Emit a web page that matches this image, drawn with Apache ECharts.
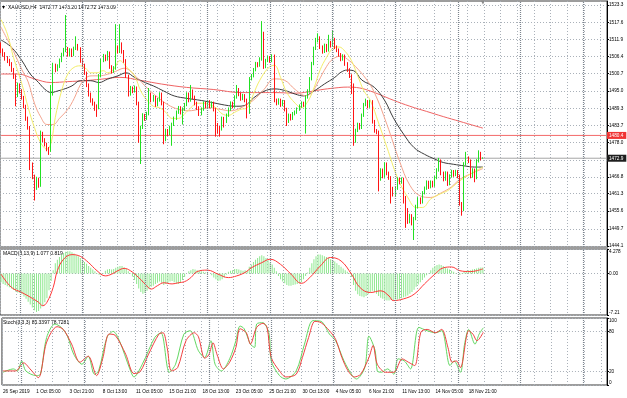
<!DOCTYPE html>
<html>
<head>
<meta charset="utf-8">
<script src="https://cdn.jsdelivr.net/npm/echarts@6.0.0/dist/echarts.min.js"></script>
<style>
  html, body { margin: 0; padding: 0; background: #fff; }
  #chart { width: 627px; height: 398px; }
</style>
</head>
<body>
<div id="chart"></div>
<script>
// XAUUSD H4
const timeLabels = ["26 Sep 2019", "1 Oct 05:00", "3 Oct 21:00", "8 Oct 13:00", "11 Oct 05:00",
  "15 Oct 21:00", "18 Oct 13:00", "23 Oct 05:00", "25 Oct 21:00", "30 Oct 13:00",
  "4 Nov 05:00", "6 Nov 21:00", "11 Nov 13:00", "14 Nov 05:00", "18 Nov 21:00"];

// [open, close, low, high]
const candles = [
  [1510,1508,1507.5,1511],[1508,1507,1506.3,1509],[1507,1505.5,1505,1507.8],[1505.5,1505,1504.2,1506.5],
  [1505,1504,1503.2,1505.6],[1504,1502,1501.3,1504.5],[1502,1500,1499,1502.6],[1500,1493.5,1490,1500.5],
  [1493.5,1497,1493,1497.8],[1497,1495,1494.2,1497.5],[1495,1493,1492.2,1495.6],[1493,1490,1489.3,1493.4],
  [1490,1486,1485.2,1490.5],[1486,1483,1482.3,1486.6],[1483,1470,1469,1483.5],[1470,1467,1466,1471.5],
  [1467,1463,1459,1467.5],[1463,1466,1462.5,1466.8],[1466,1464,1463.2,1466.5],[1464,1481,1463.5,1482],
  [1481,1479,1478.2,1481.6],[1479,1477.5,1476.8,1479.5],[1477.5,1476,1475.2,1478],[1476,1475.5,1474,1476.6],
  [1475.5,1494,1475,1497],[1494,1503.5,1493.5,1504.3],[1503.5,1502,1501.2,1504],[1502,1503,1501.5,1503.8],
  [1503,1505,1502.6,1505.7],[1505,1507,1504.5,1507.6],[1507,1508.5,1506.5,1509.2],[1508.5,1509,1507.8,1520],
  [1509,1507,1506.3,1509.5],[1507,1508.5,1506.5,1509.1],[1508.5,1507,1506.2,1509],[1507,1509,1506.5,1509.6],
  [1509,1510,1508.5,1513],[1510,1509,1508.3,1510.5],[1509,1505,1504.3,1509.4],[1505,1503.5,1502.8,1505.5],
  [1503.5,1501,1500.3,1504],[1501,1497,1496.3,1501.4],[1497,1494,1493.2,1497.5],[1494,1492,1491.2,1494.5],
  [1492,1491,1490.2,1492.6],[1491,1490,1488.5,1491.5],[1490,1489.5,1486.5,1490.6],[1489.5,1500,1489,1500.6],
  [1500,1505,1499.5,1505.6],[1505,1506.5,1504.5,1507.2],[1506.5,1505.5,1504.8,1507],[1505.5,1507.5,1505,1508.2],
  [1507.5,1503,1502.3,1508],[1503,1501.5,1500.8,1503.5],[1501.5,1502.5,1501,1503.2],[1502.5,1509.5,1502,1517],
  [1509.5,1508,1507.3,1510],[1508,1510.5,1507.5,1517],[1510.5,1508,1507.3,1511],[1508,1505,1504.3,1508.5],
  [1505,1500,1499.3,1505.5],[1500,1494,1493.2,1500.4],[1494,1496,1493.5,1496.7],[1496,1495,1494.3,1496.5],
  [1495,1496,1494.5,1496.8],[1496,1491,1490.3,1496.5],[1491,1481,1478,1491.5],[1481,1483,1471,1483.6],
  [1483,1487,1482.5,1487.7],[1487,1486,1485.2,1487.5],[1486,1487.5,1485.5,1488.2],[1487.5,1494,1487,1496],
  [1494,1492,1491.3,1494.5],[1492,1493,1491.5,1493.7],[1493,1490.5,1489.8,1493.4],[1490.5,1492,1490,1492.7],
  [1492,1494,1491.5,1494.6],[1494,1491,1490.3,1494.5],[1491,1479,1477.5,1491.5],[1479,1482,1478.5,1482.6],
  [1482,1481,1480.2,1482.5],[1481,1483,1480.5,1483.6],[1483,1484,1477,1484.6],[1484,1486,1483.5,1486.6],
  [1486,1488,1485.5,1488.6],[1488,1489.5,1487.5,1490.1],[1489.5,1488,1487.3,1490],[1488,1489,1484,1489.6],
  [1489,1490.5,1488.5,1491.1],[1490.5,1494,1490,1494.6],[1494,1492,1491.3,1494.5],[1492,1495,1491.5,1497],
  [1495,1493,1492.3,1495.5],[1493,1491,1490.3,1493.5],[1491,1489.5,1488.8,1491.5],[1489.5,1487.5,1486.8,1490],
  [1487.5,1489,1487,1489.6],[1489,1491,1488.5,1491.6],[1491,1490,1489.3,1491.5],[1490,1491.5,1489.5,1492.1],
  [1491.5,1490,1489.3,1492],[1490,1491,1489.5,1491.6],[1491,1489,1488.3,1491.5],[1489,1484,1480,1489.5],
  [1484,1483,1481,1484.5],[1483,1482.5,1480,1483.5],[1482.5,1486,1482,1486.6],[1486,1485,1483,1486.5],
  [1485,1487,1484.5,1487.6],[1487,1489,1486.5,1489.6],[1489,1491,1488.5,1491.6],[1491,1490,1489.3,1491.5],
  [1490,1493,1489.5,1493.6],[1493,1495.5,1492.5,1497],[1495.5,1494,1493.3,1496],[1494,1492.5,1491.8,1494.5],
  [1492.5,1493.5,1492,1494.1],[1493.5,1492,1491.3,1494],[1492,1488,1486,1492.5],[1488,1499,1487.5,1499.6],
  [1499,1500,1498.5,1500.6],[1500,1502,1499.5,1502.6],[1502,1504,1501.5,1504.6],[1504,1503.5,1502.8,1504.5],
  [1503.5,1505.5,1503,1506.1],[1505.5,1514,1505,1518],[1514,1503,1502.3,1514.5],[1503,1505,1502.5,1505.6],
  [1505,1506,1504.5,1506.6],[1506,1505,1504.3,1506.5],[1505,1506.5,1504.5,1507.1],[1506.5,1492,1491.3,1507],
  [1492,1491,1490.3,1492.5],[1491,1492,1490.5,1492.6],[1492,1490.5,1489.8,1492.5],[1490.5,1491.5,1490,1492.1],
  [1491.5,1489,1488.3,1492],[1489,1485,1483.5,1489.5],[1485,1487,1484.5,1487.6],[1487,1486,1485.3,1487.5],
  [1486,1487.5,1485.5,1488.1],[1487.5,1488,1487,1488.6],[1488,1489,1487.5,1489.6],[1489,1490,1488.5,1490.6],
  [1490,1491,1489.5,1491.6],[1491,1490.5,1489.8,1491.5],[1490.5,1493,1481,1493.6],[1493,1495,1492.5,1495.6],
  [1495,1499,1494.5,1499.6],[1499,1504,1498.5,1504.6],[1504,1509,1503.5,1509.6],[1509,1511.5,1508.5,1512.5],
  [1511.5,1512.5,1511,1514],[1512.5,1509.5,1508.8,1513],[1509.5,1508,1507.3,1510],[1508,1510,1507.5,1510.6],
  [1510,1508.5,1507.8,1510.5],[1508.5,1511,1508,1513.5],[1511,1510,1509.3,1511.5],[1510,1512,1509.5,1515],
  [1512,1509.5,1508.8,1512.5],[1509.5,1508.5,1507.8,1510],[1508.5,1507,1506.3,1509],[1507,1505.5,1504.8,1507.5],
  [1505.5,1506.5,1505,1507.1],[1506.5,1504,1503.3,1507],[1504,1502,1501.3,1504.5],[1502,1500,1499.3,1502.5],
  [1500,1497,1494,1500.5],[1497,1478.5,1477,1497.5],[1478.5,1482,1478,1482.6],[1482,1484,1481.5,1484.6],
  [1484,1483,1482.3,1484.5],[1483,1487,1482.5,1487.6],[1487,1490.5,1486.5,1491.1],[1490.5,1491.5,1490,1492.5],
  [1491.5,1490,1489.3,1492],[1490,1491.5,1489.5,1492.1],[1491.5,1485,1484.3,1492],[1485,1482,1481.3,1485.5],
  [1482,1481.5,1480.8,1482.5],[1481.5,1466,1462,1482],[1466,1469,1465.5,1469.6],[1469,1467,1466.3,1469.5],
  [1467,1471,1466.5,1471.6],[1471,1468,1467.3,1471.5],[1468,1466.5,1465.8,1468.5],[1466.5,1463,1458,1467],
  [1463,1461,1460.3,1463.5],[1461,1463,1460.5,1463.6],[1463,1466,1462.5,1466.6],[1466,1465,1464.3,1466.5],
  [1465,1466,1464.5,1466.6],[1466,1460,1458,1466.5],[1460,1456,1450,1460.5],[1456,1452,1451.3,1456.5],
  [1452,1454,1451.5,1454.6],[1454,1451.5,1450.8,1454.5],[1451.5,1453,1446,1453.6],[1453,1457,1452.5,1457.6],
  [1457,1459.5,1456.5,1460.1],[1459.5,1458.5,1457.8,1460],[1458.5,1461.5,1458,1462.1],[1461.5,1463,1461,1463.6],
  [1463,1465,1462.5,1465.6],[1465,1463.5,1462.8,1465.5],[1463.5,1465,1463,1465.6],[1465,1464,1463.3,1465.5],
  [1464,1466.5,1463.5,1467.1],[1466.5,1469,1466,1469.6],[1469,1472,1468.5,1473],[1472,1468,1467.3,1472.5],
  [1468,1466,1465.3,1468.5],[1466,1468,1465.5,1468.6],[1468,1464.5,1463.8,1468.5],[1464.5,1467,1464,1467.6],
  [1467,1468.5,1466.5,1469.1],[1468.5,1467.5,1466.8,1469],[1467.5,1468.5,1467,1469.1],[1468.5,1467,1466.3,1469],
  [1467,1458,1457.3,1467.5],[1458,1456,1454,1458.5],[1456,1471,1455.5,1471.6],[1471,1473,1470.5,1475],
  [1473,1472,1471.3,1473.5],[1472,1467,1466.3,1472.5],[1467,1469,1466.5,1469.6],[1469,1466.5,1465,1469.5],
  [1466.5,1472,1466,1472.6],[1472,1474.5,1471.5,1475.5],[1474.5,1472.77,1472.2,1475],[1472.77,1473.09,1472.72,1473.2]
];

// moving averages, [bar, price]
const maYellow = [[0,1518.5],[3,1513.8],[6,1506],[10,1497.3],[13,1489.6],[16,1483],[19,1478],[22,1475.9],[24,1478],
  [26,1486.3],[29,1495],[32,1500.6],[35,1502.8],[38,1503.3],[41,1502.2],[43,1501],[46,1501],[49,1501.7],[51,1501],
  [54,1502.2],[57,1505],[60,1503],[64,1500],[67,1495],[70,1492],[73,1490],[76,1489.5],[79,1488],[82,1486],[85,1486],
  [88,1487.5],[91,1489.5],[94,1491],[97,1491],[100,1490.5],[103,1489.5],[106,1487.5],[109,1487],[112,1488],[115,1489],
  [118,1489.5],[121,1494],[124,1498.5],[128,1502.5],[131,1503.5],[134,1499.5],[137,1494.5],[141,1491],[144,1489.5],
  [147,1491.5],[150,1496],[153,1502],[156,1506],[159,1509],[162,1509.5],[165,1508],[168,1505],[171,1500],[174,1495],
  [177,1492],[181,1484.5],[185,1476.5],[190,1466.6],[195,1460],[199,1456.7],[202,1456.7],[206,1459.5],[210,1461],
  [214,1462.2],[217,1463.8],[220,1465.5],[225,1467.7],[231,1470]];
const maSalmon = [[0,1516],[3,1512],[6,1508],[10,1502],[13,1498],[16,1491],[19,1486.5],[22,1484],[25,1484],[28,1486],
  [32,1489],[35,1492.5],[38,1497],[41,1499.5],[44,1500],[47,1500],[51,1500.5],[55,1501.5],[59,1502.5],[65,1499.5],
  [70,1496],[75,1493],[80,1490.5],[85,1489],[90,1488.5],[95,1489],[100,1489.5],[105,1489],[110,1488.5],[115,1489.5],
  [121,1492],[126,1495.5],[131,1499],[136,1498.5],[141,1495.5],[146,1493.5],[149,1494.5],[152,1498],[156,1503],
  [159,1505.5],[163,1506.5],[166,1505.5],[170,1503],[175,1499],[179,1494.5],[185,1484],[191,1472],[196,1464],
  [201,1460.5],[206,1460],[211,1461.5],[216,1463.5],[220,1466],[226,1468],[231,1469.5]];
const maGray = [[0,1511.8],[5,1509.4],[10,1505],[14,1500.6],[18,1497.8],[21,1495.6],[24,1494.5],[27,1495],[30,1495.6],
  [34,1496.7],[38,1498.4],[43,1498.4],[47,1497.8],[51,1498.9],[56,1500],[60,1501],[64,1499.5],[69,1497.8],[73,1496.7],
  [78,1495],[83,1493.4],[89,1492.6],[96,1491.9],[102,1491.1],[109,1490.2],[113,1490],[117,1490.3],[121,1492.7],
  [126,1494.9],[131,1495.7],[136,1495.2],[141,1494],[145,1493.4],[150,1495],[155,1497.3],[160,1499.5],[163,1501.2],
  [166,1501.9],[169,1501.7],[173,1498.6],[179,1496.2],[184,1491.8],[188,1486.3],[193,1480.8],[198,1476.4],
  [203,1474.2],[208,1472.6],[212,1471.5],[217,1470.9],[222,1470.4],[227,1470],[231,1470]];
const maRed = [[0,1500.6],[8,1500.6],[16,1499],[24,1497.8],[32,1498.1],[40,1498.4],[48,1498.9],[57,1499.5],[67,1498.5],
  [77,1497.3],[89,1496.2],[102,1495.5],[115,1494.5],[131,1494.5],[141,1494.3],[147,1494.7],[153,1495.4],[160,1496],
  [166,1496.3],[172,1496],[177,1495],[182,1493.7],[188,1492],[196,1490],[204,1488.3],[212,1486.6],[220,1485],[231,1482.8]];

// MACD histogram per bar and signal line
const macdHist = [
  -1.5,-1.8,-2.0,-2.2,-2.4, -2.6,-2.8,-3.1,-3.3,-3.4, -3.6,-4.0,-4.4,-4.9,-5.4, -5.9,-6.4,-6.7,-6.5,-6.1,
  -5.6,-5.0,-4.3,-2.9,-1.3, 0.6,1.8,2.4,2.9,3.3, 3.6,3.8,3.9,3.9,3.7, 3.5,3.2,3.0,2.7,2.4,
  2.0,1.7,1.3,1.0,0.7, 0.4,0.1,-0.2,-0.3,0.1, 0.5,0.7,0.8,0.7,0.8, 1.0,1.2,1.3,1.3,1.1,
  0.8,0.4,0.1,-0.5,-1.1, -1.8,-2.6,-3.2,-3.5,-3.4, -3.0,-2.6,-2.3,-2.1,-1.8, -1.6,-1.4,-1.6,-2.0,-1.8,
  -1.6,-1.4,-1.3,-1.5,-1.7, -1.8,-1.5,-1.1,-0.6,0.0, 0.4,0.6,0.8,0.7,0.6, 0.5,0.4,0.3,0.2,0.1,
  0.0,-0.3,-0.7,-1.0,-1.3, -1.2,-1.0,-0.7,-0.2,0.3, 0.5,0.6,0.8,0.8,0.7, 0.6,0.5,0.6,0.5,1.2,
  1.6,2.0,2.4,2.7,3.0, 3.2,3.0,2.7,2.3,1.9, 1.6,1.0,0.4,-0.4,-1.0, -1.4,-1.7,-2.0,-2.1,-2.1,
  -2.0,-1.9,-1.8,-1.7,-1.5, -1.0,-0.4,0.2,1.0,1.8, 2.5,3.0,3.3,3.3,3.2, 3.0,2.9,2.7,2.5,2.3,
  2.1,1.8,1.5,1.2,0.9, 0.6,0.3,0.1,-0.6,-2.0, -3.0,-3.6,-3.9,-4.0,-4.1, -3.9,-3.6,-3.2,-3.0,-3.2,
  -3.5,-3.9,-4.2,-4.4,-4.6, -4.7,-4.7,-4.6,-4.6,-4.5, -4.5,-4.4,-4.3,-4.1,-4.0, -3.8,-3.5,-3.2,-2.8,-2.3,
  -1.9,-1.5,-1.1,-0.7,-0.3, 0.1,0.6,1.0,1.3,1.5, 1.6,1.5,1.3,1.1,0.9, 0.7,0.5,0.3,0.1,0.0,
  -0.2,0.1,0.3,0.5,0.6, 0.6,0.7,0.8,0.9,1.0, 1.05,1.077];
const macdSignal = [[0,-0.1],[5,-2.4],[10,-3.3],[14,-4.1],[18,-5],[20,-5.6],[22,-5],[25,-2.4],[27,0.5],[30,2.5],
  [34,3.3],[38,3.0],[42,1.9],[46,0.5],[50,-0.4],[53,-0.1],[56,0.5],[59,0.9],[62,0.5],[66,-0.7],[69,-1.8],[72,-2.7],
  [75,-2.1],[78,-1.6],[82,-1.8],[85,-1.6],[88,-1.4],[91,-0.7],[94,0.35],[99,0.6],[104,-0.1],[109,-0.7],[113,-0.4],
  [117,0.2],[120,1.0],[125,1.9],[129,2.5],[134,1.6],[139,-0.1],[144,-1.7],[148,-0.7],[153,1.3],[158,2.8],[163,2.2],
  [168,-0.1],[172,-2.4],[177,-3.3],[182,-3.0],[186,-3.9],[188,-4.7],[193,-4.4],[198,-3.6],[203,-1.8],[208,-0.1],
  [212,1.0],[216,1.15],[220,0.5],[225,0.35],[228,0.5],[231,0.819]];

// Stochastic %K and %D, [bar, value]
const stochK = [[0,19],[5,24],[7,21],[9,36],[11,21],[16,14],[18,16],[21,71],[25,91],[28,86],[31,73],[34,46],[38,31],
  [41,43],[44,16],[46,21],[50,71],[53,80],[56,66],[61,24],[63,12],[67,31],[73,71],[76,78],[80,19],[83,31],[87,76],
  [90,81],[94,51],[97,41],[100,66],[102,31],[105,21],[109,39],[112,66],[114,88],[116,84],[119,61],[121,56],[122,91],
  [125,93],[128,76],[129,36],[133,14],[136,9],[141,21],[145,61],[149,96],[153,95],[157,76],[160,66],[164,36],[168,14],
  [170,9],[174,26],[176,73],[179,51],[180,21],[182,19],[185,24],[188,16],[190,39],[193,36],[196,24],[200,86],[204,81],
  [208,78],[211,81],[215,29],[217,36],[220,19],[222,61],[224,83],[227,61],[229,76],[231,85.3397]];
const stochD = [[0,21],[6,21],[10,33],[13,24],[17,11],[21,64],[26,87],[29,83],[33,61],[37,34],[41,43],[45,14],[48,40],
  [51,76],[54,74],[59,46],[63,17],[66,20],[70,46],[75,76],[77,78],[79,55],[81,21],[84,26],[88,66],[92,78],[94,72],
  [97,40],[99,45],[101,63],[103,45],[106,24],[109,34],[112,56],[114,84],[117,78],[119,61],[122,86],[125,92],[127,86],
  [129,41],[133,21],[136,12],[141,16],[144,41],[147,71],[150,95],[153,93],[157,81],[160,68],[163,41],[166,21],[169,12],
  [172,16],[176,41],[178,59],[180,31],[184,19],[188,19],[192,39],[195,34],[198,29],[201,79],[204,83],[208,78],
  [211,83],[214,56],[216,34],[218,36],[220,26],[224,81],[226,76],[228,66],[231,78.7281]];

const priceTicks = [1523.3, 1517.6, 1511.9, 1506.4, 1500.7, 1495.0, 1489.3, 1483.7, 1478.0, 1472.3, 1466.8, 1461.3, 1455.6, 1449.7, 1444.1];
const priceLabels = [1523.3, 1517.6, 1511.9, 1506.4, 1500.7, 1495.0, 1489.3, 1483.7, 1478.0, 1466.8, 1461.3, 1455.6, 1449.7, 1444.1];
const macdTicks = [4.278, 0, -7.21];
const stochTicks = [100, 80, 20, 0];
// MT4 pulls the end labels of the sub-windows slightly inside the window
const macdLabelAt = [[3.75, '4.278'], [0, '0.00'], [-6.85, '-7.21']];
const stochLabelAt = [[96, '100'], [80, '80'], [20, '20'], [3.5, '0']];
const weekStarts = [9, 39, 69, 99, 129, 159, 189, 219, 249, 279];
const hLine = 1480.4;
const bidPrice = 1472.9;
const totalBars = 291;

const cats = [];
for (let i = 0; i < totalBars; i++) cats.push(i);

const font = 'Liberation Sans';
const gridColor = '#aab1b9';
const fs = 4.7;

const weekMark = {
  silent: true, symbol: 'none', animation: false,
  lineStyle: { color: '#7d858e', type: [1, 1], width: 1.2 },
  label: { show: false },
  data: weekStarts.map(w => ({ xAxis: w }))
};

function xAx(idx, showLabels) {
  return {
    type: 'category', gridIndex: idx, data: cats, boundaryGap: true,
    axisLine: { show: false }, axisTick: { show: false },
    axisLabel: {
      show: showLabels, interval: 15, align: 'left', fontSize: fs, fontFamily: font, color: '#000', margin: 4,
      formatter: (v, i) => timeLabels[i / 16] || ''
    },
    splitLine: { show: true, interval: 7, lineStyle: { color: gridColor, type: [1, 2], width: 1 } }
  };
}

function yAx(idx, min, max, ticks, labelPairs) {
  const vals = labelPairs.map(p => p[0]);
  return {
    type: 'value', gridIndex: idx, position: 'right', min: min, max: max,
    axisLine: { show: true, lineStyle: { color: '#000', width: 1 } },
    axisTick: { show: true, length: 2, customValues: ticks, lineStyle: { color: '#000' } },
    axisLabel: {
      customValues: vals, showMinLabel: true, showMaxLabel: true,
      formatter: v => { const p = labelPairs.find(q => Math.abs(q[0] - v) < 1e-6); return p ? p[1] : ''; },
      fontSize: fs, fontFamily: font, color: '#000', margin: 2
    },
    splitLine: { show: true, lineStyle: { color: gridColor, type: [1, 2], width: 1 } }
  };
}

// horizontal price line across the whole window with its price box on the axis
function priceLine(value, lineColor, boxColor) {
  return {
    type: 'line', xAxisIndex: 0, yAxisIndex: 0, silent: true, z: 2, showSymbol: false,
    data: [[0, value], [totalBars - 1, value]],
    lineStyle: { color: lineColor, width: 1 }, itemStyle: { color: lineColor },
    endLabel: { show: true, formatter: value.toFixed(1), color: '#fff', backgroundColor: boxColor,
                fontSize: fs, fontFamily: font, padding: [1, 3, 1, 2], distance: 1 }
  };
}

function maLine(data, color) {
  return {
    type: 'line', xAxisIndex: 0, yAxisIndex: 0, data: data, smooth: 0.4, showSymbol: false,
    lineStyle: { color: color, width: 1 }, itemStyle: { color: color }, silent: true, z: 3
  };
}

const chart = echarts.init(document.getElementById('chart'), null, { renderer: 'canvas' });
chart.setOption({
  animation: false,
  backgroundColor: '#fff',
  grid: [
    { left: 0, right: 20, top: 1, height: 246, show: true, borderColor: '#3a3a3a', borderWidth: 1 },
    { left: 0, right: 20, top: 249, height: 66, show: true, borderColor: '#3a3a3a', borderWidth: 1 },
    { left: 0, right: 20, top: 318, height: 67, show: true, borderColor: '#3a3a3a', borderWidth: 1 }
  ],
  xAxis: [xAx(0, false), xAx(1, false), xAx(2, true)],
  yAxis: [
    yAx(0, 1443.7, 1524.62, priceTicks, priceLabels.map(v => [v, v.toFixed(1)])),
    yAx(1, -7.21, 4.278, macdTicks, macdLabelAt),
    yAx(2, 0, 100, stochTicks, stochLabelAt)
  ],
  graphic: [
    { type: 'text', left: 2, top: 4, style: { text: '\u25BE', fontSize: 6, fill: '#000', fontFamily: 'DejaVu Sans' } },
    { type: 'text', left: 8, top: 5, style: { text: 'XAUUSD,H4  1472.77 1473.20 1472.72 1473.09', fontSize: 5, fill: '#000', fontFamily: font } },
    { type: 'text', left: 481, top: 0, style: { text: '\u25BC', fontSize: 5, fill: '#8a8a8a', fontFamily: 'DejaVu Sans' } },
    { type: 'text', left: 3, top: 251, style: { text: 'MACD(3,13,9) 1.077 0.819', fontSize: 5, fill: '#000', fontFamily: font } },
    { type: 'text', left: 3, top: 320, style: { text: 'Stoch(8,3,3) 85.3397 78.7281', fontSize: 5, fill: '#000', fontFamily: font } }
  ],
  series: [
    priceLine(hLine, '#f46a6a', '#f03434'),
    priceLine(bidPrice, '#a6a6a6', '#1e1e1e'),
    maLine(maRed, '#f06464'),
    maLine(maGray, '#3c3c3c'),
    maLine(maSalmon, '#f4a48e'),
    maLine(maYellow, '#f4ee6a'),
    {
      type: 'candlestick', xAxisIndex: 0, yAxisIndex: 0, data: candles, barWidth: 1, z: 4,
      itemStyle: { color: '#22e022', color0: '#ff1414', borderColor: '#22e022', borderColor0: '#ff1414', borderWidth: 1 },
      markLine: weekMark
    },
    {
      type: 'bar', xAxisIndex: 1, yAxisIndex: 1, data: macdHist, barWidth: 1,
      itemStyle: { color: '#8ee88e' }, silent: true, markLine: weekMark
    },
    {
      type: 'line', xAxisIndex: 1, yAxisIndex: 1, data: macdSignal, smooth: 0.4, showSymbol: false,
      lineStyle: { color: '#ff3838', width: 1 }, silent: true
    },
    {
      type: 'line', xAxisIndex: 2, yAxisIndex: 2, data: stochK, smooth: 0.3, showSymbol: false,
      lineStyle: { color: '#62d862', width: 1 }, silent: true, markLine: weekMark
    },
    {
      type: 'line', xAxisIndex: 2, yAxisIndex: 2, data: stochD, smooth: 0.3, showSymbol: false,
      lineStyle: { color: '#f04040', width: 1 }, silent: true
    }
  ]
});
</script>
</body>
</html>
